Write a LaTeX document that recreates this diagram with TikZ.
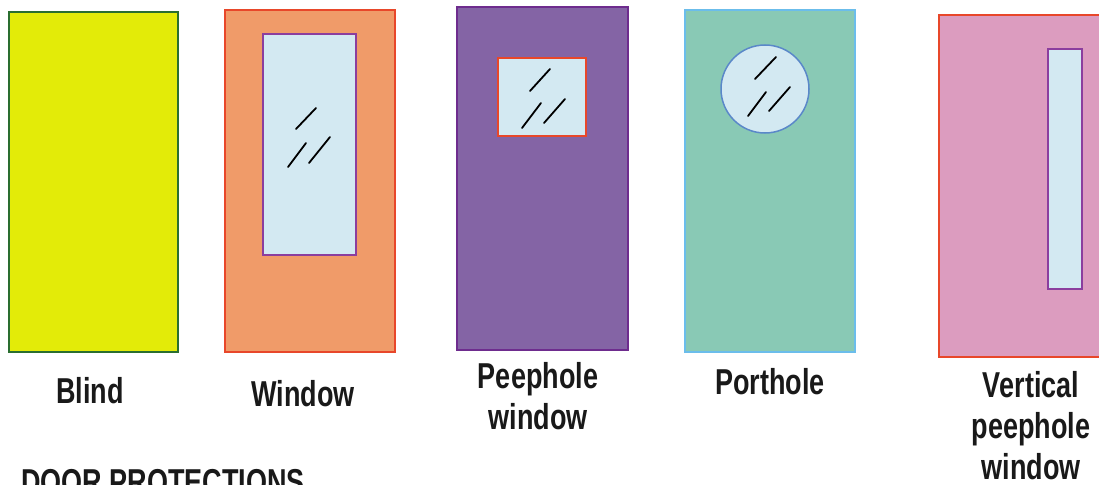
\documentclass[tikz,border=0pt]{standalone}
\usepackage{fontspec}
\setmainfont{Liberation Sans}[FakeStretch=0.75]
\definecolor{blindfill}{HTML}{E3EB08}
\definecolor{blindline}{HTML}{2A6E30}
\definecolor{winfill}{HTML}{F09B69}
\definecolor{redline}{HTML}{E8472A}
\definecolor{glass}{HTML}{D3E9F2}
\definecolor{purpleline}{HTML}{8B3E9E}
\definecolor{peepfill}{HTML}{8464A5}
\definecolor{peepline}{HTML}{6E2C8E}
\definecolor{portfill}{HTML}{89C9B5}
\definecolor{portline}{HTML}{6BBDEB}
\definecolor{circline}{HTML}{5A88C9}
\definecolor{vertfill}{HTML}{DC9CBF}
\tikzset{
  door/.style={line width=2pt},
  pane/.style={line width=2pt, fill=glass},
  crack/.style={line width=1.8pt, line cap=round, black},
  lbl/.style={font=\fontsize{36}{41}\selectfont\bfseries, inner sep=0pt, align=center, text=black!90}
}
\begin{document}
\begin{tikzpicture}[x=1pt,y=-1pt]
\useasboundingbox (0,0) rectangle (1099,484);
\fill[white] (0,0) rectangle (1099,484);
% Blind
\draw[door, draw=blindline, fill=blindfill] (9,12) rectangle (178,352);
% Window
\draw[door, draw=redline, fill=winfill] (225,10) rectangle (395,352);
\draw[pane, draw=purpleline] (263,34) rectangle (356,255);
\draw[crack] (296,129) -- (316,108);
\draw[crack] (288,167) -- (306,143);
\draw[crack] (309,163) -- (330,137);
% Peephole window
\draw[door, draw=peepline, fill=peepfill] (457,7) rectangle (628,350);
\draw[pane, draw=redline] (498,58) rectangle (586,136);
\draw[crack] (530,91) -- (550,69);
\draw[crack] (522,128) -- (541,103);
\draw[crack] (544,123) -- (565,99);
% Porthole
\draw[door, draw=portline, fill=portfill] (685,10) rectangle (855,352);
\draw[pane, draw=circline, line width=1.5pt] (765,89) circle (44);
\draw[crack] (755,79) -- (776,57);
\draw[crack] (748,116) -- (766,92);
\draw[crack] (769,111) -- (790,87);
% Vertical peephole window
\draw[door, draw=redline, fill=vertfill] (939,15) rectangle (1110,357);
\draw[pane, draw=purpleline] (1048,49) rectangle (1082,289);
% Labels
\node[lbl, anchor=base] (blind) at (90,403) {Blind};
\node[lbl, anchor=base] (window) at (303,406) {Window};
\node[lbl, anchor=north] (peephole) at (538,362) {Peephole\\window};
\node[lbl, anchor=base] (porthole) at (770,394) {Porthole};
\node[lbl, anchor=north] (vertical) at (1031,371) {Vertical\\peephole\\window};
\node[lbl, anchor=north west] (title) at (21,469) {DOOR PROTECTIONS};
\end{tikzpicture}
\end{document}
